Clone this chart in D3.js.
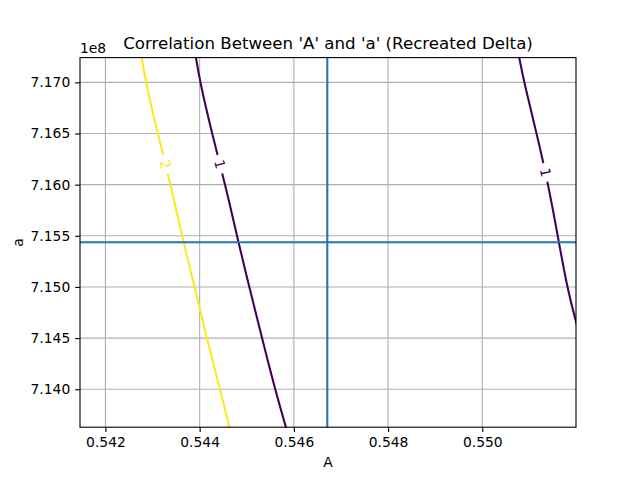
<!DOCTYPE html>
<html>
<head>
<meta charset="utf-8">
<script src="https://cdn.jsdelivr.net/npm/d3@7"></script>
<style>
    body { margin: 0; background: #fff; }
    svg { display: block; font-family: "DejaVu Sans", sans-serif; }
</style>
</head>
<body>
<svg id="chart" width="640" height="480"></svg>
<script>
// Axis ranges ('a' values are in units of 1e8)
const xDomain = [0.54146, 0.55199];
const yDomain = [7.13629, 7.17242];
const xTicks = [0.542, 0.544, 0.546, 0.548, 0.550];
const yTicks = [7.140, 7.145, 7.150, 7.155, 7.160, 7.165, 7.170];

// Contour levels and their viridis colours
const levels = [1, 2];
const levelColors = ['#440154', '#fde725'];

// Reference point (crosshair)
const refA = 0.54671;
const refY = 7.15437;

// Contour paths: [A, a]
const contour2 = [
    [0.542750, 7.1730], [0.542855, 7.1700], [0.543110, 7.1650], [0.543386, 7.1600],
    [0.543653, 7.1544], [0.543895, 7.1500], [0.544150, 7.1450], [0.544432, 7.1400],
    [0.544650, 7.1360]
];
const contour1Left = [
    [0.543900, 7.1730], [0.544008, 7.1700], [0.544262, 7.1650], [0.544545, 7.1600],
    [0.544821, 7.1544], [0.545054, 7.1500], [0.545324, 7.1450], [0.545600, 7.1400],
    [0.545850, 7.1360]
];
const contour1Right = [
    [0.550760, 7.1730], [0.550886, 7.1700], [0.551156, 7.1650], [0.551402, 7.1600],
    [0.551602, 7.1550], [0.551799, 7.1500], [0.551990, 7.1466], [0.552050, 7.1455]
];
const contour2Corner = [
    [0.551960, 7.1730], [0.552010, 7.1721]
];

const contours = [
    { level: 2, points: contour2 },
    { level: 1, points: contour1Left },
    { level: 1, points: contour1Right },
    { level: 2, points: contour2Corner }
];

// Inline labels: which contour and at what 'a' value
const contourLabels = [
    { path: 0, a: 7.1620 },
    { path: 1, a: 7.1620 },
    { path: 2, a: 7.1612 }
];

const width = 640;
const height = 480;
const plot = { left: 80, right: 576, top: 57.6, bottom: 427.2 };
const PT = 100 / 72;

const svg = d3.select('#chart');

const x = d3.scaleLinear().domain(xDomain).range([plot.left, plot.right]);
const y = d3.scaleLinear().domain(yDomain).range([plot.bottom, plot.top]);

const colorOf = lvl => levelColors[levels.indexOf(lvl)];

const defs = svg.append('defs');
defs.append('clipPath')
    .attr('id', 'plotClip')
    .append('rect')
    .attr('x', plot.left)
    .attr('y', plot.top)
    .attr('width', plot.right - plot.left)
    .attr('height', plot.bottom - plot.top);

// Grid
const grid = svg.append('g').attr('stroke', '#b0b0b0').attr('stroke-width', 0.8 * PT);
grid.selectAll('.gx')
    .data(xTicks)
    .enter().append('line')
    .attr('x1', d => x(d)).attr('x2', d => x(d))
    .attr('y1', plot.top).attr('y2', plot.bottom);
grid.selectAll('.gy')
    .data(yTicks)
    .enter().append('line')
    .attr('y1', d => y(d)).attr('y2', d => y(d))
    .attr('x1', plot.left).attr('x2', plot.right);

// Label positions along contours
function labelPlacement(lbl) {
    const pts = contours[lbl.path].points;
    for (let i = 0; i < pts.length - 1; i++) {
        const p0 = pts[i], p1 = pts[i + 1];
        if ((lbl.a <= p0[1] && lbl.a >= p1[1]) || (lbl.a >= p0[1] && lbl.a <= p1[1])) {
            const t = (lbl.a - p0[1]) / (p1[1] - p0[1]);
            const A = p0[0] + t * (p1[0] - p0[0]);
            const sx0 = x(p0[0]), sy0 = y(p0[1]), sx1 = x(p1[0]), sy1 = y(p1[1]);
            let ang = Math.atan2(sy1 - sy0, sx1 - sx0) * 180 / Math.PI;
            if (ang > 90) ang -= 180;
            if (ang < -90) ang += 180;
            return { px: x(A), py: y(lbl.a), angle: ang, level: contours[lbl.path].level };
        }
    }
    return null;
}
const placed = contourLabels.map(labelPlacement).filter(d => d);

// Mask to break the lines where labels sit
const mask = defs.append('mask')
    .attr('id', 'labelMask')
    .attr('maskUnits', 'userSpaceOnUse')
    .attr('x', 0).attr('y', 0).attr('width', width).attr('height', height);
mask.append('rect').attr('width', width).attr('height', height).attr('fill', 'white');
mask.selectAll('.hole')
    .data(placed)
    .enter().append('rect')
    .attr('x', -9.5).attr('y', -7).attr('width', 19).attr('height', 14)
    .attr('fill', 'black')
    .attr('transform', d => `translate(${d.px},${d.py}) rotate(${d.angle})`);

// Contours (smoothed through the read-off points)
const line = d3.line().curve(d3.curveBasis).x(d => x(d[0])).y(d => y(d[1]));
svg.append('g')
    .attr('clip-path', 'url(#plotClip)')
    .append('g')
    .attr('mask', 'url(#labelMask)')
    .selectAll('path')
    .data(contours)
    .enter().append('path')
    .attr('d', d => line(d.points))
    .attr('fill', 'none')
    .attr('stroke', d => colorOf(d.level))
    .attr('stroke-width', 1.5 * PT);

svg.append('g')
    .selectAll('text')
    .data(placed)
    .enter().append('text')
    .attr('transform', d => `translate(${d.px},${d.py}) rotate(${d.angle})`)
    .attr('text-anchor', 'middle')
    .attr('dy', '0.36em')
    .attr('font-size', 10 * PT)
    .attr('fill', d => colorOf(d.level))
    .text(d => d.level);

// Crosshair
const cross = svg.append('g').attr('stroke', '#1f77b4').attr('stroke-width', 1.5 * PT);
cross.append('line')
    .attr('x1', x(refA)).attr('x2', x(refA))
    .attr('y1', plot.top).attr('y2', plot.bottom);
cross.append('line')
    .attr('x1', plot.left).attr('x2', plot.right)
    .attr('y1', y(refY)).attr('y2', y(refY));

// Spines
svg.append('rect')
    .attr('x', plot.left).attr('y', plot.top)
    .attr('width', plot.right - plot.left)
    .attr('height', plot.bottom - plot.top)
    .attr('fill', 'none')
    .attr('stroke', '#000')
    .attr('stroke-width', 0.8 * PT);

// Axes
const fmt = d3.format('.3f');
const xAxis = svg.append('g')
    .attr('transform', `translate(0,${plot.bottom})`)
    .call(d3.axisBottom(x).tickValues(xTicks).tickFormat(fmt)
        .tickSize(3.5 * PT).tickPadding(3.5 * PT).tickSizeOuter(0));
const yAxis = svg.append('g')
    .attr('transform', `translate(${plot.left},0)`)
    .call(d3.axisLeft(y).tickValues(yTicks).tickFormat(fmt)
        .tickSize(3.5 * PT).tickPadding(3.5 * PT).tickSizeOuter(0));

[xAxis, yAxis].forEach(ax => {
    ax.select('.domain').remove();
    ax.attr('font-family', '"DejaVu Sans", sans-serif').attr('font-size', 10 * PT);
    ax.selectAll('.tick line').attr('stroke', '#000').attr('stroke-width', 0.8 * PT);
    ax.selectAll('.tick text').attr('fill', '#000');
});

// Texts
svg.append('text')
    .attr('x', (plot.left + plot.right) / 2)
    .attr('y', 49.3)
    .attr('text-anchor', 'middle')
    .attr('font-size', 12 * PT)
    .text("Correlation Between 'A' and 'a' (Recreated Delta)");

svg.append('text')
    .attr('x', plot.left)
    .attr('y', 53)
    .attr('font-size', 10 * PT)
    .text('1e8');

svg.append('text')
    .attr('x', (plot.left + plot.right) / 2)
    .attr('y', 467)
    .attr('text-anchor', 'middle')
    .attr('font-size', 10 * PT)
    .text('A');

svg.append('text')
    .attr('transform', `translate(23,${(plot.top + plot.bottom) / 2}) rotate(-90)`)
    .attr('text-anchor', 'middle')
    .attr('font-size', 10 * PT)
    .text('a');
</script>
</body>
</html>
